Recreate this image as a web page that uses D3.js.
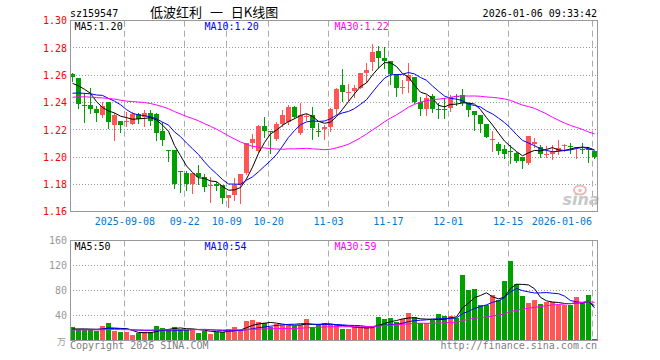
<!DOCTYPE html>
<html><head><meta charset="utf-8">
<script src="https://cdn.jsdelivr.net/npm/d3@7"></script>
<style>body{margin:0;background:#fff}svg{display:block}</style>
</head><body><svg id="c" width="660" height="360"></svg>
<script>
// ---------- data ----------
const code = "sz159547";
const title = "低波红利 一 日K线图";
const stamp = "2026-01-06 09:33:42";
const dates = [
"2025-08-26","2025-08-27","2025-08-28","2025-08-29","2025-09-01","2025-09-02","2025-09-03","2025-09-04","2025-09-05",
"2025-09-08","2025-09-09","2025-09-10","2025-09-11","2025-09-12","2025-09-15","2025-09-16","2025-09-17","2025-09-18","2025-09-19",
"2025-09-22","2025-09-23","2025-09-24","2025-09-25","2025-09-26","2025-09-29","2025-09-30",
"2025-10-09","2025-10-10","2025-10-13","2025-10-14","2025-10-15","2025-10-16","2025-10-17","2025-10-20","2025-10-21","2025-10-22","2025-10-23","2025-10-24","2025-10-27","2025-10-28","2025-10-29","2025-10-30","2025-10-31",
"2025-11-03","2025-11-04","2025-11-05","2025-11-06","2025-11-07","2025-11-10","2025-11-11","2025-11-12","2025-11-13","2025-11-14","2025-11-17","2025-11-18","2025-11-19","2025-11-20","2025-11-21","2025-11-24","2025-11-25","2025-11-26","2025-11-27","2025-11-28",
"2025-12-01","2025-12-02","2025-12-03","2025-12-04","2025-12-05","2025-12-08","2025-12-09","2025-12-10","2025-12-11","2025-12-12","2025-12-15","2025-12-16","2025-12-17","2025-12-18","2025-12-19","2025-12-22","2025-12-23","2025-12-24","2025-12-25","2025-12-26","2025-12-29","2025-12-30","2025-12-31",
"2026-01-05","2026-01-06"];
const open = [1.261,1.258,1.2385,1.2383,1.2354,1.231,1.2402,1.2236,1.2265,1.2262,1.2246,1.2314,1.2292,1.2326,1.2317,1.2195,1.2055,1.2053,1.1896,1.1886,1.1804,1.1882,1.1853,1.1789,1.18,1.1796,1.1703,1.1723,1.1796,1.1882,1.2104,1.2047,1.223,1.2194,1.2136,1.2243,1.2255,1.237,1.2177,1.2295,1.231,1.2195,1.2205,1.222,1.2355,1.2529,1.2473,1.2485,1.2508,1.2619,1.27,1.2778,1.2724,1.2703,1.2607,1.251,1.2555,1.259,1.2405,1.2353,1.2448,1.2355,1.2355,1.2358,1.2449,1.2455,1.2395,1.2338,1.2309,1.2241,1.2129,1.2094,1.2058,1.2042,1.2033,1.2003,1.1955,1.2097,1.2075,1.202,1.2021,1.2045,1.2085,1.2082,1.2068,1.206,1.2058,1.2048];
const high = [1.262,1.258,1.2468,1.2505,1.2378,1.2407,1.2405,1.2322,1.2268,1.2329,1.2329,1.232,1.2346,1.2346,1.232,1.226,1.2055,1.2055,1.1896,1.1895,1.1886,1.1943,1.1875,1.1853,1.182,1.1798,1.1725,1.1845,1.188,1.2105,1.2168,1.2232,1.2295,1.2194,1.2258,1.2345,1.2385,1.2375,1.2395,1.2315,1.2368,1.2248,1.2235,1.2358,1.251,1.2648,1.2535,1.2529,1.2617,1.269,1.2832,1.2815,1.281,1.2705,1.261,1.2565,1.2688,1.259,1.2443,1.2455,1.246,1.2395,1.243,1.2455,1.246,1.25,1.2395,1.2338,1.2309,1.2241,1.2192,1.2109,1.209,1.2089,1.2036,1.2003,1.2155,1.214,1.209,1.208,1.2089,1.2126,1.2095,1.21,1.2075,1.21,1.2075,1.2048];
const low = [1.256,1.2363,1.226,1.2322,1.2268,1.2297,1.2212,1.2126,1.2187,1.2231,1.224,1.2253,1.2231,1.2235,1.2126,1.209,1.1968,1.1772,1.1747,1.176,1.174,1.18,1.1755,1.1674,1.176,1.1662,1.1637,1.1686,1.1662,1.188,1.207,1.204,1.215,1.2028,1.2128,1.223,1.2245,1.229,1.2172,1.2275,1.2132,1.2158,1.2132,1.2193,1.2316,1.241,1.2419,1.2443,1.2505,1.255,1.2639,1.2657,1.2651,1.2538,1.2448,1.2472,1.248,1.2395,1.231,1.231,1.2333,1.2285,1.229,1.2338,1.2382,1.2382,1.2302,1.22,1.2187,1.2146,1.2046,1.2021,1.1992,1.1955,1.1963,1.1919,1.195,1.2077,1.2003,1.2,1.1987,1.2025,1.2043,1.203,1.199,1.2027,1.1967,1.1995];
const close = [1.259,1.2388,1.2382,1.2354,1.232,1.2376,1.226,1.231,1.2236,1.2266,1.2314,1.2277,1.2326,1.2265,1.218,1.2126,1.2052,1.1804,1.1892,1.1804,1.1886,1.1857,1.1784,1.1793,1.1785,1.1703,1.1723,1.1796,1.1877,1.2102,1.2135,1.223,1.2193,1.219,1.224,1.2312,1.237,1.2295,1.231,1.2305,1.221,1.2192,1.2223,1.2355,1.2503,1.248,1.2477,1.2507,1.2617,1.2639,1.2773,1.2729,1.2705,1.261,1.2505,1.2514,1.26,1.2407,1.2353,1.2436,1.2353,1.235,1.235,1.2443,1.2446,1.24,1.2346,1.2309,1.2241,1.2151,1.2131,1.2046,1.2021,1.204,1.1968,1.1974,1.2155,1.2109,1.2023,1.2022,1.204,1.207,1.2089,1.2078,1.2072,1.2057,1.2055,1.1999];
const volume = [22.1,18.4,16.8,16.8,15.7,23.2,28,15.7,14.1,14.1,8.8,11.5,14.1,14.1,23.2,19.5,17.9,21.6,18.4,16.8,18.4,12.5,15.7,10.4,14.1,14.1,18.4,21.1,16.8,31.7,32.8,30.1,27.5,22.1,26.4,24.8,24.8,23.7,24.8,33.9,22.1,24.8,27.5,24.8,24.8,18.4,18.4,21.1,21.1,21.1,21.1,38.1,34.4,36,30.1,34.4,44.5,37.1,27.5,27.5,32.8,42.4,39.2,39.2,35.5,104.8,80.8,82.4,56.8,56.8,72.8,64.8,95.2,127.2,90.4,71.2,60.5,64.8,58.4,62.1,62.1,56.8,56.8,56.8,69.1,60.5,72.8,2.4];
// sessions before the visible window (estimated from where the MA lines start)
const priorCloses = [1.232,1.236,1.241,1.245,1.243,1.239,1.244,1.248,1.246,1.242,1.238,1.244,1.247,1.25,1.252,1.248,1.244,1.241,1.236,1.233,1.236,1.242,1.238,1.241,1.2405,1.2483,1.2507,1.2499,1.2626];
const priorVolumes = [16,15,18,17,14,16,19,17,15,16,18,17,16,15,17,19,16,17,15,16,17,16,18,16,17,18,17,18,17];
const priceTicks = [1.30,1.28,1.26,1.24,1.22,1.20,1.18,1.16];
const volumeTicks = [160,120,80,40];
const tickDates = ["2025-09-08","2025-09-22","2025-10-09","2025-10-20","2025-11-03","2025-11-17","2025-12-01","2025-12-15","2026-01-06"];
const tickLabels = ["2025-09-08","09-22","10-09","10-20","11-03","11-17","12-01","12-15","2026-01-06"];
const maPeriods = [5,10,30];
const maNames = ["MA5","MA10","MA30"];
const maLabelValues = ["1.20","1.20","1.22"];
const volMaLabelValues = ["50","54","59"];

// ---------- drawing ----------
const svg = d3.select("#c");
const MONO = "'DejaVu Sans Mono', monospace";
const UP = "#ff5555", DOWN = "#00a000";
const maColors = ["#000000","#0000ff","#ff00ff"];
const L = 70, R = 597;
const n = dates.length;

const x = d3.scaleBand().domain(d3.range(n)).range([L, R]).paddingInner(0).paddingOuter(0);
const y = d3.scaleLinear().domain([1.16, 1.30]).range([211.7, 20.7]);
const yv = d3.scaleLinear().domain([0, 160]).range([340.5, 240.5]);
const bx = i => Math.round(x(i) + x.bandwidth()/2 - 2.5);
const cx = i => bx(i) + 2.5;
const snap = v => Math.floor(v) + 0.5;

function movingAvg(prior, arr, p) {
  const all = prior.concat(arr), off = prior.length;
  return arr.map((_, i) => d3.mean(all.slice(i + off - p + 1, i + off + 1)));
}

// headers
svg.append("text").attr("x", 70).attr("y", 17).attr("font-family", MONO).attr("font-size", 10).text(code);
svg.append("text").attr("x", 150).attr("y", 17).attr("font-family", "'Noto Sans CJK SC', sans-serif")
  .attr("font-size", 13).attr("word-spacing", 5).style("white-space", "pre").text(title);
svg.append("text").attr("x", 597).attr("y", 17).attr("text-anchor", "end").attr("font-family", MONO).attr("font-size", 10).text(stamp);

// panels: gridlines
const grid = svg.append("g").attr("stroke", "#999").attr("stroke-width", 1).attr("fill", "none");
priceTicks.slice(1, -1).forEach(t => {
  grid.append("line").attr("x1", L).attr("x2", R).attr("y1", snap(y(t))).attr("y2", snap(y(t))).attr("stroke-dasharray", "1,2");
});
volumeTicks.slice(1).forEach(t => {
  grid.append("line").attr("x1", L).attr("x2", R).attr("y1", snap(yv(t))).attr("y2", snap(yv(t))).attr("stroke-dasharray", "1,2");
});
const tickIdx = tickDates.map(d => dates.indexOf(d));
tickIdx.forEach(i => {
  [[y(1.30), y(1.16)], [yv(160), yv(0)]].forEach(([a, b]) => {
    grid.append("line").attr("x1", bx(i) + 0.5).attr("x2", bx(i) + 0.5).attr("y1", a).attr("y2", b)
      .attr("stroke", "#aaa").attr("stroke-dasharray", "6,4");
  });
});

// watermark
const wm = svg.append("g");
wm.append("ellipse").attr("cx", 580).attr("cy", 190).attr("rx", 6).attr("ry", 4.5).attr("fill", "none").attr("stroke", "#f2b8b8").attr("stroke-width", 2);
wm.append("circle").attr("cx", 580).attr("cy", 190.5).attr("r", 1.8).attr("fill", "#f2b8b8");
wm.append("text").attr("x", 581).attr("y", 205).attr("text-anchor", "middle").attr("font-family", "'DejaVu Sans', sans-serif")
  .attr("font-style", "italic").attr("font-weight", "bold").attr("font-size", 16).attr("fill", "#c8c8c8").text("sina");

// candles
const idx = d3.range(n);
const isUp = i => close[i] >= open[i];
const cg = svg.append("g").attr("shape-rendering", "crispEdges");
cg.selectAll("line.w").data(idx).join("line").attr("class", "w")
  .attr("x1", cx).attr("x2", cx).attr("y1", i => Math.round(y(high[i]))).attr("y2", i => Math.round(y(low[i])) + 1)
  .attr("stroke", i => isUp(i) ? UP : DOWN);
cg.selectAll("rect.b").data(idx).join("rect").attr("class", "b")
  .attr("x", bx).attr("width", 5)
  .attr("y", i => Math.round(y(Math.max(open[i], close[i]))))
  .attr("height", i => Math.max(1, Math.round(y(Math.min(open[i], close[i]))) - Math.round(y(Math.max(open[i], close[i])))))
  .attr("fill", i => isUp(i) ? UP : DOWN);

// price MAs
const line = (ys) => d3.line().x((d, i) => cx(i)).y(d => ys(d));
maPeriods.forEach((p, k) => {
  svg.append("path").datum(movingAvg(priorCloses, close, p)).attr("d", line(y))
    .attr("fill", "none").attr("stroke", maColors[k]).attr("stroke-width", 1);
});

// volume bars
const vg = svg.append("g").attr("shape-rendering", "crispEdges");
vg.selectAll("rect").data(idx).join("rect")
  .attr("x", bx).attr("width", 5)
  .attr("y", i => Math.round(yv(volume[i]))).attr("height", i => Math.max(1, 340 - Math.round(yv(volume[i]))))
  .attr("fill", i => isUp(i) ? UP : DOWN);
maPeriods.forEach((p, k) => {
  svg.append("path").datum(movingAvg(priorVolumes, volume, p)).attr("d", line(yv))
    .attr("fill", "none").attr("stroke", maColors[k]).attr("stroke-width", 1);
});

// frames
svg.append("rect").attr("x", L + 0.5).attr("y", 20.5).attr("width", R - L).attr("height", 191).attr("fill", "none").attr("stroke", "#999");
svg.append("rect").attr("x", L + 0.5).attr("y", 240.5).attr("width", R - L).attr("height", 100).attr("fill", "none").attr("stroke", "#999");

// axes
const ya = svg.append("g").attr("transform", "translate(67,0)")
  .call(d3.axisLeft(y).tickValues(priceTicks).tickFormat(d3.format(".2f")).tickSize(0).tickPadding(0));
ya.select(".domain").remove();
ya.selectAll("text").attr("fill", "#ff0000").attr("font-family", MONO).attr("font-size", 10);
const va = svg.append("g").attr("transform", "translate(67,0)")
  .call(d3.axisLeft(yv).tickValues(volumeTicks).tickFormat(d3.format("d")).tickSize(0).tickPadding(0));
va.select(".domain").remove();
va.selectAll("text").attr("fill", "#999").attr("font-family", MONO).attr("font-size", 10);

const xa = svg.append("g").attr("transform", "translate(-2,215)")
  .call(d3.axisBottom(x).tickValues(tickIdx).tickFormat((d, k) => tickLabels[k]).tickSize(0).tickPadding(3));
xa.select(".domain").remove();
xa.selectAll("text").attr("fill", "#0078d7").attr("font-family", MONO).attr("font-size", 10);
xa.selectAll("text").filter((d, k) => k === tickIdx.length - 1).attr("text-anchor", "end").attr("x", 0);

// MA legends
const legX = [74.5, 204.5, 334.5];
maNames.forEach((m, k) => {
  svg.append("text").attr("x", legX[k]).attr("y", 30).attr("font-family", MONO).attr("font-size", 10).attr("fill", maColors[k]).text(m + ":" + maLabelValues[k]);
  svg.append("text").attr("x", legX[k]).attr("y", 250).attr("font-family", MONO).attr("font-size", 10).attr("fill", maColors[k]).text(m + ":" + volMaLabelValues[k]);
});

// footer
svg.append("text").attr("x", 66).attr("y", 345).attr("text-anchor", "end").attr("font-family", "'Noto Sans CJK SC', sans-serif").attr("font-size", 9).attr("fill", "#999").text("万");
svg.append("text").attr("x", 70).attr("y", 349).attr("font-family", MONO).attr("font-size", 10).attr("fill", "#808080").text("Copyright 2026 SINA.COM");
svg.append("text").attr("x", 597).attr("y", 349).attr("text-anchor", "end").attr("font-family", MONO).attr("font-size", 10).attr("fill", "#808080").text("http://finance.sina.com.cn");
</script></body></html>
